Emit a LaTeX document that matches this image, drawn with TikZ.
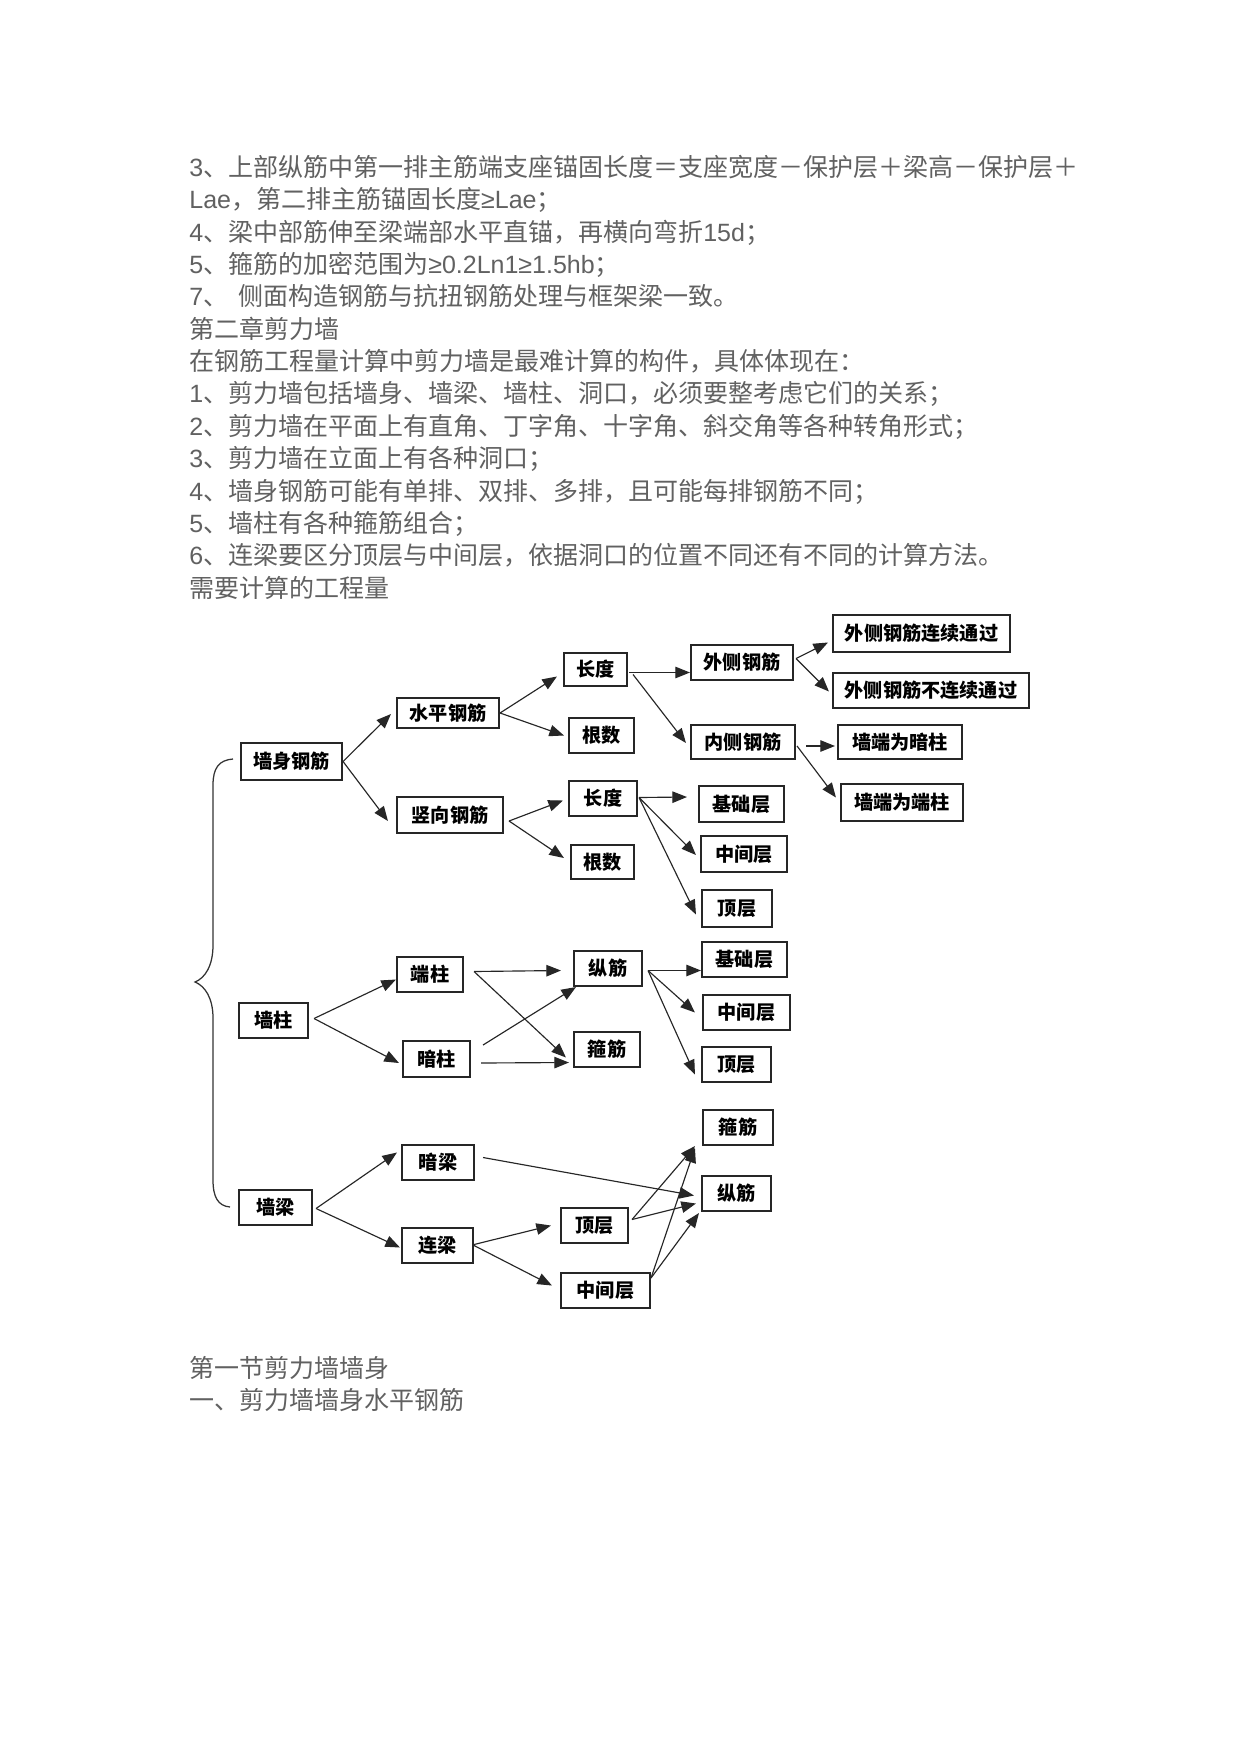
\documentclass[tikz,border=0pt]{standalone}
\usepackage{fontspec}
\setmainfont{Noto Sans CJK SC}
\newfontfamily\lat{Liberation Sans}
\usetikzlibrary{arrows.meta,calc}
\tikzset{
  txt/.style={anchor=base west, inner sep=0pt, text=black!62, font=\fontsize{12pt}{15pt}\selectfont},
  bx/.style={draw=black!85, line width=1pt, inner sep=0pt, font=\bfseries\fontsize{9.2pt}{9.2pt}\selectfont},
  wh/.style 2 args={minimum width=#1*0.48pt, minimum height=#2*0.48pt},
  arr/.style={draw=black!85, line width=0.55pt, -{Triangle[length=7pt,width=5.5pt]}},
  bracepath/.style={draw=black!80, line width=0.6pt}
}
\begin{document}
\begin{tikzpicture}[x=0.48pt,y=-0.48pt]
\fill[white] (0,0) rectangle (1241,1754);
\useasboundingbox (0,0) rectangle (1241,1754);

% ---------- text ----------
\node[txt] (t1) at (189,176.5) {{\lat 3}、上部纵筋中第一排主筋端支座锚固长度＝支座宽度－保护层＋梁高－保护层＋};
\node[txt] (t2) at (189,208.85) {{\lat Lae}，第二排主筋锚固长度{\lat ≥Lae}；};
\node[txt] (t3) at (189,241.2) {{\lat 4}、梁中部筋伸至梁端部水平直锚，再横向弯折{\lat 15d}；};
\node[txt] (t4) at (189,273.55) {{\lat 5}、箍筋的加密范围为{\lat ≥0.2Ln1≥1.5hb}；};
\node[txt] (t5) at (189,305.9) {{\lat 7}、\hspace{5pt}侧面构造钢筋与抗扭钢筋处理与框架梁一致。};
\node[txt] (t6) at (189,338.25) {第二章剪力墙};
\node[txt] (t7) at (189,370.6) {在钢筋工程量计算中剪力墙是最难计算的构件，具体体现在：};
\node[txt] (t8) at (189,402.95) {{\lat 1}、剪力墙包括墙身、墙梁、墙柱、洞口，必须要整考虑它们的关系；};
\node[txt] (t9) at (189,435.3) {{\lat 2}、剪力墙在平面上有直角、丁字角、十字角、斜交角等各种转角形式；};
\node[txt] (t10) at (189,467.65) {{\lat 3}、剪力墙在立面上有各种洞口；};
\node[txt] (t11) at (189,500) {{\lat 4}、墙身钢筋可能有单排、双排、多排，且可能每排钢筋不同；};
\node[txt] (t12) at (189,532.35) {{\lat 5}、墙柱有各种箍筋组合；};
\node[txt] (t13) at (189,564.7) {{\lat 6}、连梁要区分顶层与中间层，依据洞口的位置不同还有不同的计算方法。};
\node[txt] (t14) at (189,597.05) {需要计算的工程量};
\node[txt] (t15) at (189,1377) {第一节剪力墙墙身};
\node[txt] (t16) at (189,1409) {一、剪力墙墙身水平钢筋};

% ---------- boxes ----------
\node[bx,wh={101}{37}] (qs) at (291.5,761.5) {墙身钢筋};
\node[bx,wh={102}{30}] (sp) at (448,713) {水平钢筋};
\node[bx,wh={106}{36}] (sx) at (450,815) {竖向钢筋};
\node[bx,wh={63}{33}] (cd1) at (595.5,669.5) {长度};
\node[bx,wh={65}{35}] (gs1) at (601.5,735.5) {根数};
\node[bx,wh={68}{35}] (cd2) at (603,798.5) {长度};
\node[bx,wh={63}{34}] (gs2) at (602.5,862) {根数};
\node[bx,wh={102}{35}] (wc) at (742,662.5) {外侧钢筋};
\node[bx,wh={177}{37}] (lx) at (921.5,633.5) {外侧钢筋连续通过};
\node[bx,wh={196}{35}] (blx) at (931,690.5) {外侧钢筋不连续通过};
\node[bx,wh={104}{34}] (nc) at (743,742) {内侧钢筋};
\node[bx,wh={124}{34}] (ac) at (900,742) {墙端为暗柱};
\node[bx,wh={122}{37}] (dz) at (902,802.5) {墙端为端柱};
\node[bx,wh={85}{36}] (jc1) at (741.5,804) {基础层};
\node[bx,wh={86}{36}] (zj1) at (744,854) {中间层};
\node[bx,wh={70}{37}] (dc1) at (737,908.5) {顶层};

\node[bx,wh={69}{35}] (qz) at (273.5,1020.5) {墙柱};
\node[bx,wh={66}{35}] (dzz) at (430,974.5) {端柱};
\node[bx,wh={67}{36}] (azz) at (436.5,1059) {暗柱};
\node[bx,wh={68}{35}] (zj) at (608,968.5) {纵筋};
\node[bx,wh={66}{35}] (gj) at (607,1049.5) {箍筋};
\node[bx,wh={85}{35}] (jc2) at (744.5,959.5) {基础层};
\node[bx,wh={87}{35}] (zj2) at (746.5,1012.5) {中间层};
\node[bx,wh={69}{35}] (dc2) at (736.5,1064.5) {顶层};

\node[bx,wh={73}{35}] (ql) at (275.5,1207.5) {墙梁};
\node[bx,wh={72}{35}] (al) at (438,1162.5) {暗梁};
\node[bx,wh={71}{35}] (ll) at (437.5,1245.5) {连梁};
\node[bx,wh={67}{35}] (dc3) at (594.5,1225.5) {顶层};
\node[bx,wh={89}{35}] (zj3) at (605.5,1290.5) {中间层};
\node[bx,wh={70}{35}] (gj3) at (738,1127.5) {箍筋};
\node[bx,wh={69}{35}] (zj4) at (736.5,1193.5) {纵筋};

% ---------- brace ----------
\coordinate (bra) at (233,759);
\coordinate (brb) at (230,1207);
\draw[bracepath] (bra) .. controls (219,760) and (213,768) .. (213,785)
  -- (213,945) .. controls (213,966) and (205,978) .. (195,982)
  .. controls (205,986) and (213,998) .. (213,1018)
  -- (213,1180) .. controls (213,1197) and (218,1206) .. (brb);

% ---------- arrows: wall body ----------
\draw[arr] (qs.east) -- ($(sp.west)+(-5,1)$);
\draw[arr] (qs.east) -- ($(sx.west)+(-8,6)$);
\draw[arr] (sp.east) -- ($(cd1.west)+(-6,7)$);
\draw[arr] (sp.east) -- ($(gs1.west)+(-4,0)$);
\draw[arr] ($(sx.east)+(5,6)$) -- ($(cd2.west)+(-5,2)$);
\draw[arr] ($(sx.east)+(5,6)$) -- ($(gs2.west)+(-6,-4)$);
\draw[arr] ($(cd1.east)+(1,3)$) -- ($(wc.west)+(0,10)$);
\draw[arr] ($(cd1.east)+(5,5)$) -- ($(nc.west)+(-4,1)$);
\draw[arr] ($(wc.east)+(2,-4)$) -- ($(lx.west)+(-4,9)$);
\draw[arr] ($(wc.east)+(2,-4)$) -- ($(blx.west)+(-3,1)$);
\draw[arr] ($(nc.east)+(10,4)$) -- ($(ac.west)+(-2,4)$);
\draw[arr] ($(nc.east)+(1,4)$) -- ($(dz.west)+(-4,-5)$);
\draw[arr] ($(cd2.east)+(1,-1)$) -- ($(jc1.west)+(-11,-7)$);
\draw[arr] ($(cd2.east)+(1,-1)$) -- ($(zj1.west)+(-4,1)$);
\draw[arr] ($(cd2.east)+(1,-1)$) -- ($(dc1.west)+(-5,6)$);

% ---------- arrows: wall columns ----------
\draw[arr] ($(qz.east)+(5,-2)$) -- ($(dzz.west)+(0,5)$);
\draw[arr] ($(qz.east)+(5,-2)$) -- ($(azz.west)+(-3,4)$);
\draw[arr] ($(dzz.east)+(10,-3)$) -- ($(zj.west)+(-12,2)$);
\draw[arr] ($(dzz.east)+(10,-3)$) -- ($(gj.west)+(-7,8)$);
\draw[arr] ($(azz.east)+(12,-14)$) -- ($(zj.south west)+(3,0)$);
\draw[arr] ($(azz.east)+(10,4)$) -- ($(gj.west)+(-4,13)$);
\draw[arr] ($(zj.east)+(5,2)$) -- ($(jc2.west)+(0,11)$);
\draw[arr] ($(zj.east)+(5,2)$) -- ($(zj2.west)+(-7,0)$);
\draw[arr] ($(zj.east)+(5,2)$) -- ($(dc2.west)+(-6,10)$);

% ---------- arrows: wall beams ----------
\draw[arr] ($(ql.east)+(3,1)$) -- ($(al.west)+(-4,-10)$);
\draw[arr] ($(ql.east)+(3,1)$) -- ($(ll.west)+(-1,2)$);
\draw[arr] ($(al.east)+(8,-5)$) -- ($(zj4.west)+(-7,2)$);
\draw[arr] ($(ll.east)+(0,-1)$) -- ($(dc3.west)+(-9,0)$);
\draw[arr] (ll.east) -- ($(zj3.west)+(-8,-5)$);
\draw[arr] ($(dc3.east)+(3,-6)$) -- ($(gj3.south west)+(-7,0)$);
\draw[arr] ($(dc3.east)+(3,-6)$) -- ($(zj4.west)+(-5,10)$);
\draw[arr] ($(zj3.north east)+(0,6)$) -- ($(gj3.south west)+(-7,2)$);
\draw[arr] ($(zj3.north east)+(0,6)$) -- ($(zj4.south west)+(-2,1)$);
\end{tikzpicture}
\end{document}
